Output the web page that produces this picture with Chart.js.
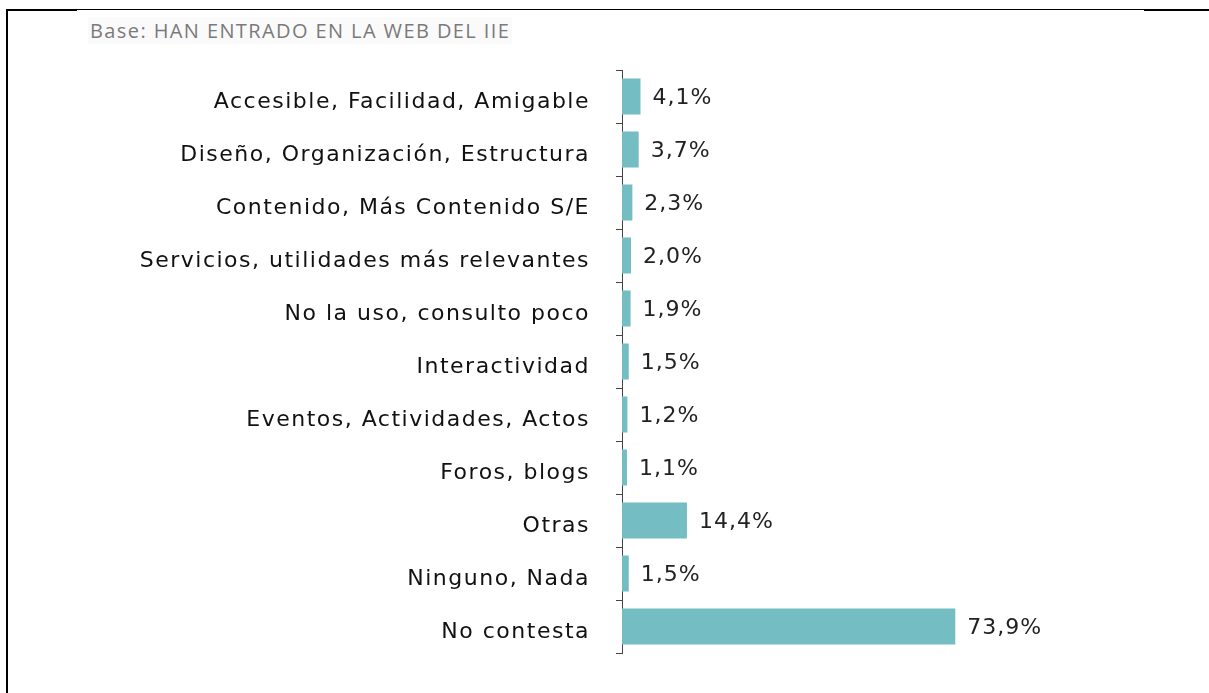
<!DOCTYPE html>
<html>
<head>
<meta charset="utf-8">
<script src="https://cdn.jsdelivr.net/npm/chart.js@4"></script>
<style>
  html, body { margin: 0; padding: 0; background: #fff; }
  #wrap { position: relative; width: 1209px; height: 693px; overflow: hidden; }
  #chart { position: absolute; left: 0; top: 0; }
  .line { position: absolute; background: #000; }
  #titulo {
    position: absolute; left: 88px; top: 17px;
    font-family: "Open Sans", sans-serif; font-size: 20px; letter-spacing: 1.4px;
    color: #7a7a7a; background: #fafafa; padding: 0 2px;
  }
</style>
</head>
<body>
<div id="wrap">
  <canvas id="chart" width="1209" height="693"></canvas>
  <div class="line" style="left:6px; top:9px; width:1203px; height:1px;"></div>
  <div class="line" style="left:6px; top:9px; width:71px; height:2px;"></div>
  <div class="line" style="left:1144px; top:9px; width:65px; height:2px;"></div>
  <div class="line" style="left:6px; top:9px; width:2px; height:684px;"></div>
  <div id="titulo">Base: HAN ENTRADO EN LA WEB DEL IIE</div>
</div>
<script>
// Categorías y valores (%)
const categorias = [
  'Accesible, Facilidad, Amigable',
  'Diseño, Organización, Estructura',
  'Contenido, Más Contenido S/E',
  'Servicios, utilidades más relevantes',
  'No la uso, consulto poco',
  'Interactividad',
  'Eventos, Actividades, Actos',
  'Foros, blogs',
  'Otras',
  'Ninguno, Nada',
  'No contesta'
];
const valores = [4.1, 3.7, 2.3, 2.0, 1.9, 1.5, 1.2, 1.1, 14.4, 1.5, 73.9];

// Espaciado de letras para las etiquetas del eje
const espaciado = {
  id: 'espaciado',
  beforeDraw(chart) { chart.ctx.letterSpacing = '1.5px'; },
  afterDraw(chart) { chart.ctx.letterSpacing = '0px'; }
};

// Etiquetas de valor al final de cada barra
const etiquetasValor = {
  id: 'etiquetasValor',
  afterDatasetsDraw(chart) {
    const ctx = chart.ctx;
    const meta = chart.getDatasetMeta(0);
    ctx.save();
    ctx.letterSpacing = '1px';
    ctx.font = '22px "DejaVu Sans", Verdana, sans-serif';
    ctx.fillStyle = '#222';
    ctx.textAlign = 'left';
    ctx.textBaseline = 'middle';
    meta.data.forEach((bar, i) => {
      const txt = valores[i].toFixed(1).replace('.', ',') + '%';
      ctx.fillText(txt, bar.x + 12, bar.y + 2);
    });
    ctx.restore();
  }
};

const ctx = document.getElementById('chart').getContext('2d');
new Chart(ctx, {
  type: 'bar',
  data: {
    labels: categorias,
    datasets: [{
      data: valores,
      backgroundColor: '#73bdc3',
      borderWidth: 0,
      categoryPercentage: 1,
      barPercentage: 0.68
    }]
  },
  options: {
    indexAxis: 'y',
    responsive: false,
    animation: false,
    layout: { padding: { left: 10, right: 136, top: 70, bottom: 40 } },
    plugins: {
      legend: { display: false },
      tooltip: { enabled: false }
    },
    scales: {
      x: { display: false, min: 0, max: 100 },
      y: {
        afterFit(scale) { scale.width = 612; },
        border: { display: true, color: '#444', width: 1 },
        grid: { drawOnChartArea: false, tickLength: 6, color: '#444', offset: true },
        ticks: {
          color: '#111',
          padding: 26,
          labelOffset: 6,
          font: { family: '"DejaVu Sans", Verdana, sans-serif', size: 22 }
        }
      }
    }
  },
  plugins: [espaciado, etiquetasValor]
});
</script>
</body>
</html>
